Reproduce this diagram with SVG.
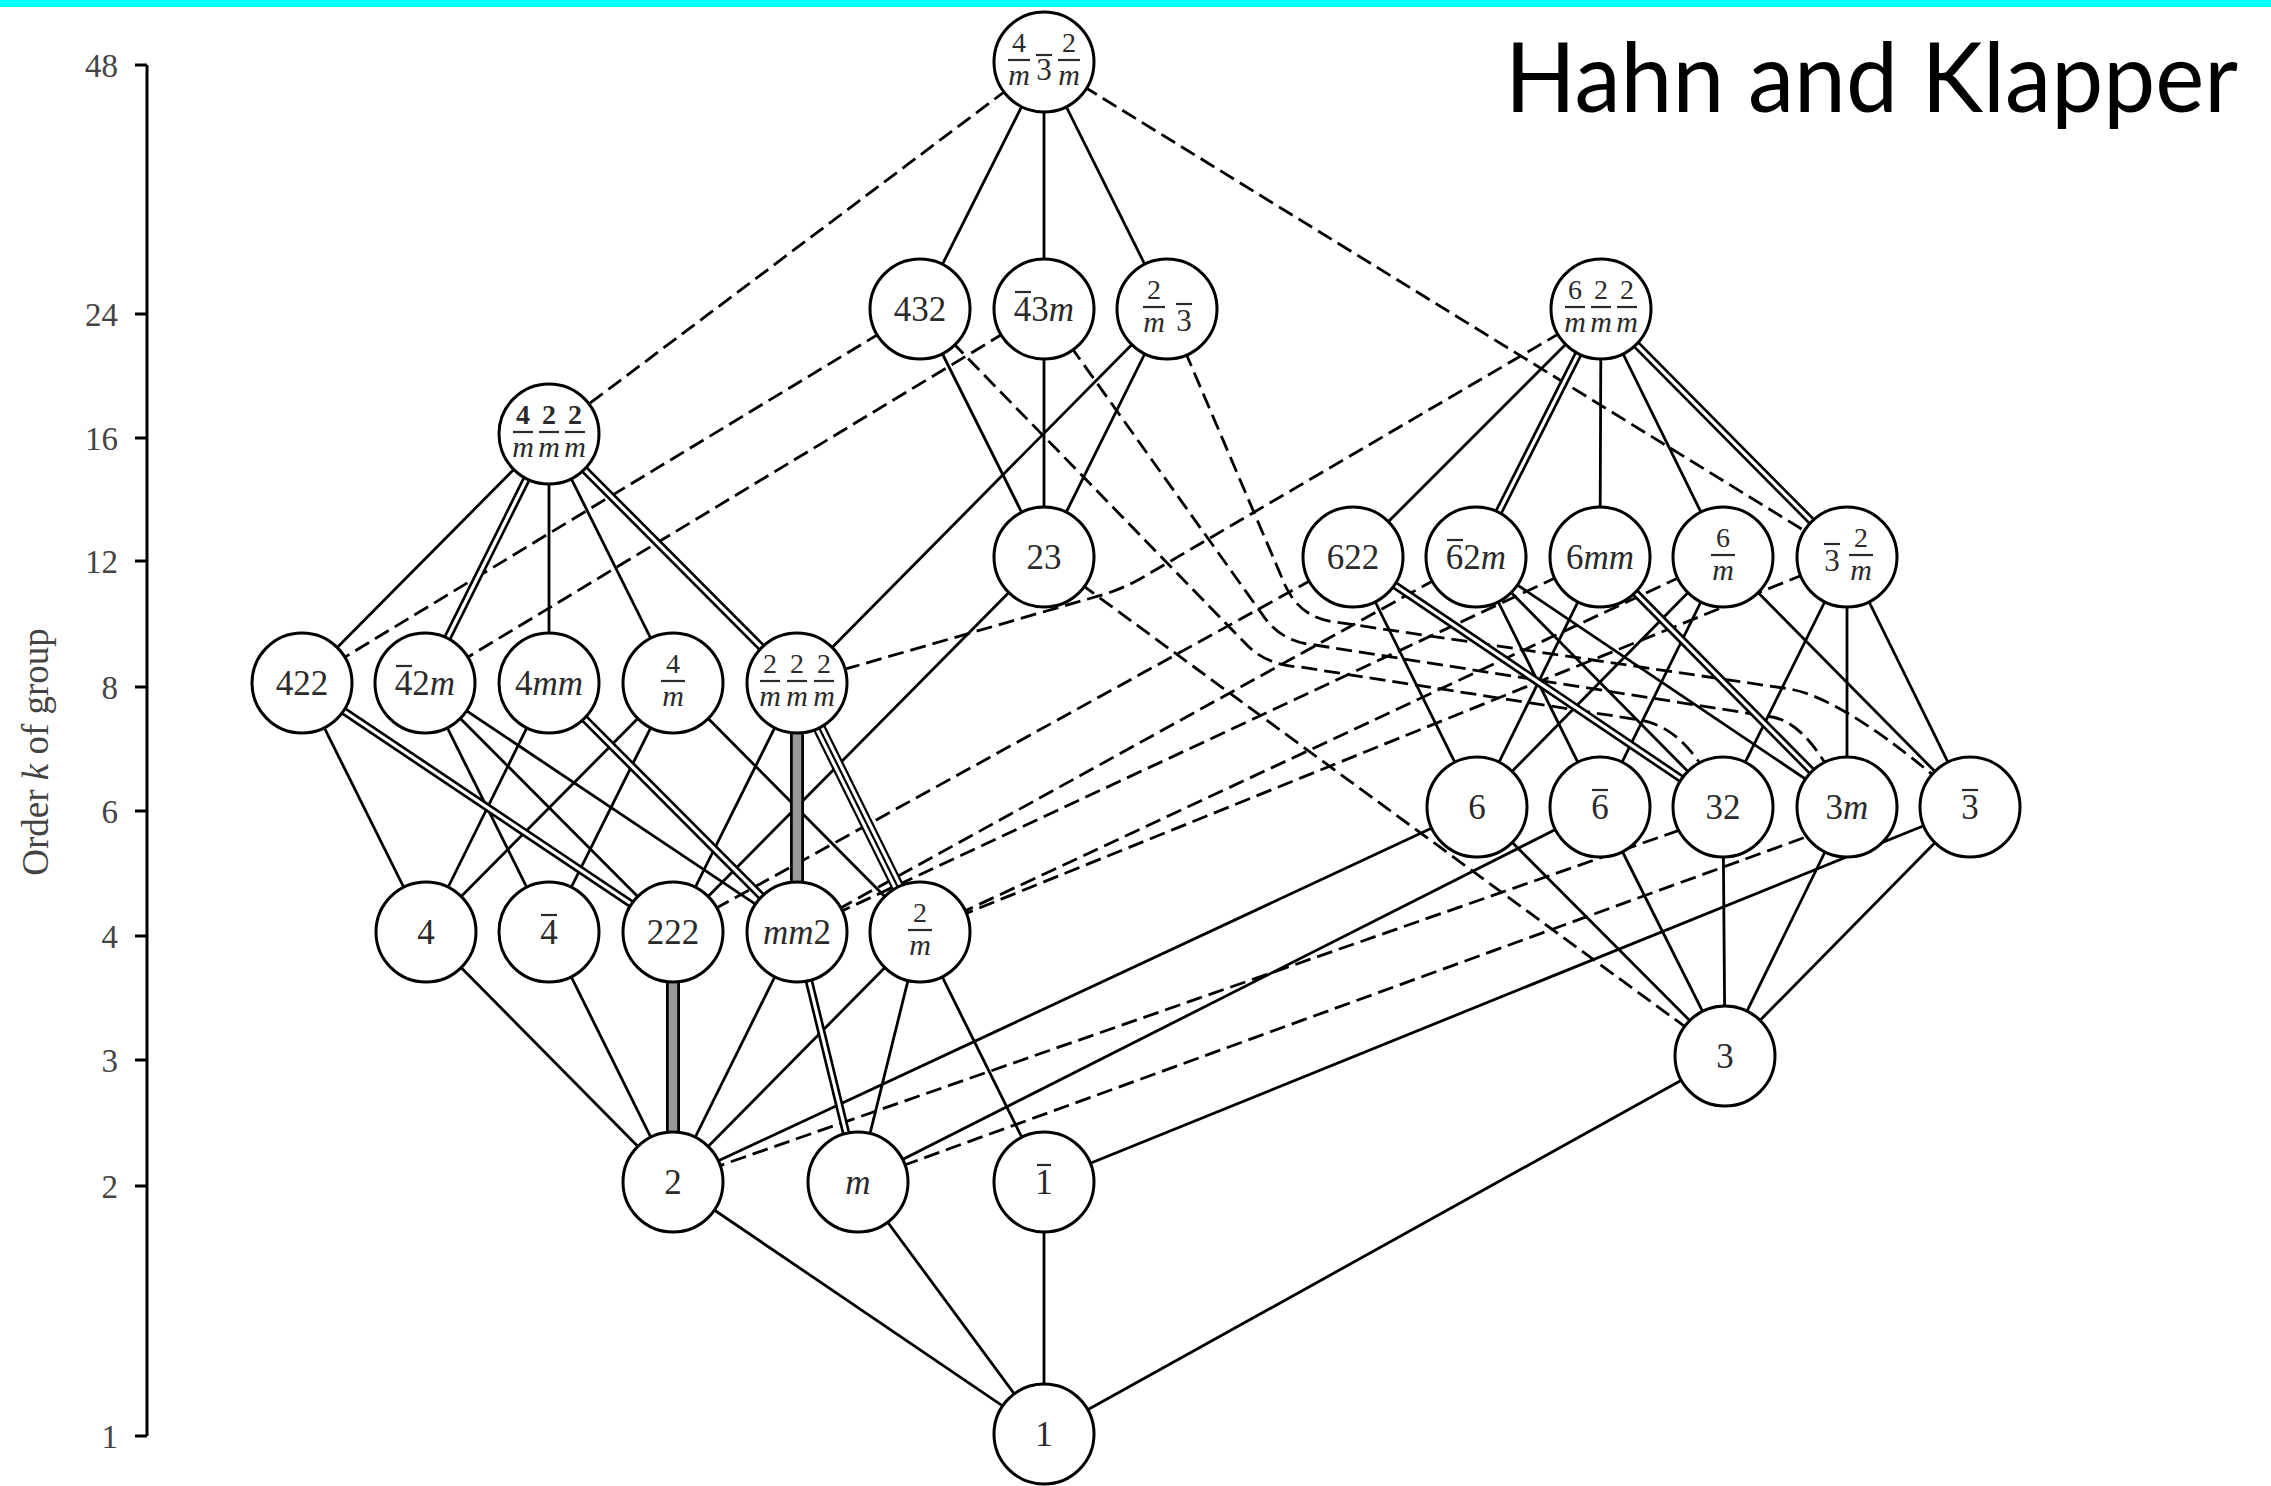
<svg xmlns="http://www.w3.org/2000/svg" width="2271" height="1486" viewBox="0 0 2271 1486">
<style>
.s{stroke:#000;stroke-width:2.8;fill:none}
.ds{stroke:#000;stroke-width:2.8;fill:none;stroke-dasharray:16 7}
.do{stroke:#000;stroke-width:8.5}
.di{stroke:#fff;stroke-width:3.2}
.to{stroke:#000;stroke-width:13}
.ti{stroke:#fff;stroke-width:8.6}
.tc{stroke:#000;stroke-width:2.2}
.go{stroke:#000;stroke-width:14}
.gi{stroke:#999;stroke-width:8.5}
.node circle{fill:#fff;stroke:#000;stroke-width:3}
.t{font-family:"Liberation Serif",serif;font-size:35px;fill:#2a2a2a;text-anchor:middle}
.fr{font-family:"Liberation Serif",serif;font-size:28px;fill:#2a2a2a;text-anchor:middle}
.dm{font-size:30px;font-style:italic}
.b3{font-size:31px}
.i{font-style:italic}
.fb,.ob{stroke:#2a2a2a;stroke-width:2.2}
.ax{stroke:#000;stroke-width:3;fill:none}
.al{font-family:"Liberation Serif",serif;font-size:33px;fill:#444;text-anchor:end}
</style>
<rect x="0" y="0" width="2271" height="7" fill="#00ffff"/>
<text x="1505" y="112" font-family="Lato,'Open Sans',sans-serif" font-size="96" fill="#000" textLength="733" lengthAdjust="spacingAndGlyphs">Hahn and Klapper</text>
<g id="axis">
<path class="ax" d="M147,65V1436M135,65H147M135,314H147M135,438H147M135,561H147M135,687H147M135,811H147M135,936H147M135,1060H147M135,1186H147M135,1436H147"/>
<text class="al" x="118" y="77">48</text>
<text class="al" x="118" y="326">24</text>
<text class="al" x="118" y="450">16</text>
<text class="al" x="118" y="573">12</text>
<text class="al" x="118" y="699">8</text>
<text class="al" x="118" y="823">6</text>
<text class="al" x="118" y="948">4</text>
<text class="al" x="118" y="1072">3</text>
<text class="al" x="118" y="1198">2</text>
<text class="al" x="118" y="1448">1</text>
<text transform="translate(48,752) rotate(-90)" font-family="Liberation Serif,serif" font-size="37" fill="#444" text-anchor="middle">Order <tspan font-style="italic">k</tspan> of group</text>
</g>
<g id="connectors">
<g id="solid">
<line class="s" x1="1044" y1="62" x2="920" y2="309"/>
<line class="s" x1="1044" y1="62" x2="1044" y2="309"/>
<line class="s" x1="1044" y1="62" x2="1167" y2="309"/>
<line class="s" x1="920" y1="309" x2="1044" y2="557"/>
<line class="s" x1="1044" y1="309" x2="1044" y2="557"/>
<line class="s" x1="1167" y1="309" x2="1044" y2="557"/>
<line class="s" x1="1167" y1="309" x2="797" y2="683"/>
<line class="s" x1="1601" y1="309" x2="1353" y2="557"/>
<line class="s" x1="1601" y1="309" x2="1600" y2="557"/>
<line class="s" x1="1601" y1="309" x2="1723" y2="557"/>
<line class="s" x1="549" y1="434" x2="302" y2="683"/>
<line class="s" x1="549" y1="434" x2="549" y2="683"/>
<line class="s" x1="549" y1="434" x2="673" y2="683"/>
<line class="s" x1="1044" y1="557" x2="673" y2="932"/>
<line class="s" x1="1353" y1="557" x2="1477" y2="807"/>
<line class="s" x1="1476" y1="557" x2="1600" y2="807"/>
<line class="s" x1="1476" y1="557" x2="1723" y2="807"/>
<line class="s" x1="1476" y1="557" x2="1847" y2="807"/>
<line class="s" x1="1600" y1="557" x2="1477" y2="807"/>
<line class="s" x1="1723" y1="557" x2="1477" y2="807"/>
<line class="s" x1="1723" y1="557" x2="1600" y2="807"/>
<line class="s" x1="1723" y1="557" x2="1970" y2="807"/>
<line class="s" x1="1847" y1="557" x2="1723" y2="807"/>
<line class="s" x1="1847" y1="557" x2="1847" y2="807"/>
<line class="s" x1="1847" y1="557" x2="1970" y2="807"/>
<line class="s" x1="302" y1="683" x2="426" y2="932"/>
<line class="s" x1="425" y1="683" x2="549" y2="932"/>
<line class="s" x1="425" y1="683" x2="673" y2="932"/>
<line class="s" x1="425" y1="683" x2="797" y2="932"/>
<line class="s" x1="549" y1="683" x2="426" y2="932"/>
<line class="s" x1="673" y1="683" x2="426" y2="932"/>
<line class="s" x1="673" y1="683" x2="549" y2="932"/>
<line class="s" x1="673" y1="683" x2="920" y2="932"/>
<line class="s" x1="797" y1="683" x2="673" y2="932"/>
<line class="s" x1="1477" y1="807" x2="1725" y2="1056"/>
<line class="s" x1="1477" y1="807" x2="673" y2="1182"/>
<line class="s" x1="1600" y1="807" x2="1725" y2="1056"/>
<line class="s" x1="1600" y1="807" x2="858" y2="1182"/>
<line class="s" x1="1723" y1="807" x2="1725" y2="1056"/>
<line class="s" x1="1847" y1="807" x2="1725" y2="1056"/>
<line class="s" x1="1970" y1="807" x2="1725" y2="1056"/>
<line class="s" x1="1970" y1="807" x2="1044" y2="1182"/>
<line class="s" x1="426" y1="932" x2="673" y2="1182"/>
<line class="s" x1="549" y1="932" x2="673" y2="1182"/>
<line class="s" x1="797" y1="932" x2="673" y2="1182"/>
<line class="s" x1="920" y1="932" x2="673" y2="1182"/>
<line class="s" x1="920" y1="932" x2="858" y2="1182"/>
<line class="s" x1="920" y1="932" x2="1044" y2="1182"/>
<line class="s" x1="1725" y1="1056" x2="1044" y2="1434"/>
<line class="s" x1="673" y1="1182" x2="1044" y2="1434"/>
<line class="s" x1="858" y1="1182" x2="1044" y2="1434"/>
<line class="s" x1="1044" y1="1182" x2="1044" y2="1434"/>
</g>
<g id="dashed">
<line class="ds" x1="1044" y1="62" x2="549" y2="434"/>
<line class="ds" x1="1044" y1="62" x2="1847" y2="557"/>
<line class="ds" x1="920" y1="309" x2="302" y2="683"/>
<line class="ds" x1="1044" y1="309" x2="425" y2="683"/>
<line class="ds" x1="1044" y1="557" x2="1725" y2="1056"/>
<line class="ds" x1="1353" y1="557" x2="673" y2="932"/>
<line class="ds" x1="1476" y1="557" x2="797" y2="932"/>
<line class="ds" x1="1600" y1="557" x2="797" y2="932"/>
<line class="ds" x1="1723" y1="557" x2="920" y2="932"/>
<line class="ds" x1="1847" y1="557" x2="920" y2="932"/>
<line class="ds" x1="1723" y1="815" x2="673" y2="1182"/>
<line class="ds" x1="1847" y1="822" x2="858" y2="1182"/>
<path class="ds" d="M1167,309 L1285,585 Q1300,618 1335,622 L1790,689 Q1850,700 1970,807"/>
<path class="ds" d="M1044,309 L1262,614 Q1280,642 1315,645 L1772,717 Q1812,724 1847,807"/>
<path class="ds" d="M920,309 L1245,643 Q1265,665 1300,667 L1640,720 Q1690,728 1723,807"/>
<path class="ds" d="M1601,309 L1140,579 Q1118,591 1095,597 L797,683"/>
</g>
<g id="double">
<line class="do" x1="1601" y1="309" x2="1476" y2="557"/><line class="di" x1="1601" y1="309" x2="1476" y2="557"/>
<line class="do" x1="1601" y1="309" x2="1847" y2="557"/><line class="di" x1="1601" y1="309" x2="1847" y2="557"/>
<line class="do" x1="549" y1="434" x2="425" y2="683"/><line class="di" x1="549" y1="434" x2="425" y2="683"/>
<line class="do" x1="549" y1="434" x2="797" y2="683"/><line class="di" x1="549" y1="434" x2="797" y2="683"/>
<line class="do" x1="1353" y1="557" x2="1723" y2="807"/><line class="di" x1="1353" y1="557" x2="1723" y2="807"/>
<line class="do" x1="1600" y1="557" x2="1847" y2="807"/><line class="di" x1="1600" y1="557" x2="1847" y2="807"/>
<line class="do" x1="302" y1="683" x2="673" y2="932"/><line class="di" x1="302" y1="683" x2="673" y2="932"/>
<line class="do" x1="549" y1="683" x2="797" y2="932"/><line class="di" x1="549" y1="683" x2="797" y2="932"/>
<line class="do" x1="797" y1="932" x2="858" y2="1182"/><line class="di" x1="797" y1="932" x2="858" y2="1182"/>
</g>
<g id="triple">
<line class="to" x1="797" y1="683" x2="920" y2="932"/><line class="ti" x1="797" y1="683" x2="920" y2="932"/><line class="tc" x1="797" y1="683" x2="920" y2="932"/>
<line class="go" x1="797" y1="683" x2="797" y2="932"/><line class="gi" x1="797" y1="683" x2="797" y2="932"/>
<line class="go" x1="673" y1="932" x2="673" y2="1182"/><line class="gi" x1="673" y1="932" x2="673" y2="1182"/>
</g>
</g>
<g id="nodes">
<g id="n-m3m" class="node"><circle cx="1044" cy="62" r="50"/>
<text class="fr"><tspan x="1019" y="52">4</tspan><tspan class="dm" x="1019" y="85">m</tspan><tspan class="b3" x="1044" y="80">3</tspan><tspan x="1069" y="52">2</tspan><tspan class="dm" x="1069" y="85">m</tspan></text>
<line class="fb" x1="1008" y1="60" x2="1030" y2="60"/><line class="ob" x1="1036" y1="55" x2="1052" y2="55"/><line class="fb" x1="1058" y1="60" x2="1080" y2="60"/></g>
<g id="n-432" class="node"><circle cx="920" cy="309" r="50"/><text class="t" x="920" y="321">432</text></g>
<g id="n-43m" class="node"><circle cx="1044" cy="309" r="50"/><text class="t" x="1044" y="321">43<tspan class="i">m</tspan></text><line class="ob" x1="1015" y1="292" x2="1031" y2="292"/></g>
<g id="n-m3" class="node"><circle cx="1167" cy="309" r="50"/>
<text class="fr"><tspan x="1154" y="299">2</tspan><tspan class="dm" x="1154" y="332">m</tspan><tspan class="b3" x="1184" y="331">3</tspan></text>
<line class="fb" x1="1143" y1="307" x2="1165" y2="307"/><line class="ob" x1="1176" y1="304" x2="1192" y2="304"/></g>
<g id="n-6mmm" class="node"><circle cx="1601" cy="309" r="50"/>
<text class="fr"><tspan x="1575" y="299">6</tspan><tspan x="1601" y="299">2</tspan><tspan x="1627" y="299">2</tspan><tspan class="dm" x="1575" y="332">m</tspan><tspan class="dm" x="1601" y="332">m</tspan><tspan class="dm" x="1627" y="332">m</tspan></text>
<line class="fb" x1="1565" y1="307" x2="1585" y2="307"/><line class="fb" x1="1591" y1="307" x2="1611" y2="307"/><line class="fb" x1="1617" y1="307" x2="1637" y2="307"/></g>
<g id="n-4mmm" class="node"><circle cx="549" cy="434" r="50"/>
<text class="fr"><tspan x="523" y="424" font-weight="bold">4</tspan><tspan x="549" y="424" font-weight="bold">2</tspan><tspan x="575" y="424" font-weight="bold">2</tspan><tspan class="dm" x="523" y="457">m</tspan><tspan class="dm" x="549" y="457">m</tspan><tspan class="dm" x="575" y="457">m</tspan></text>
<line class="fb" x1="513" y1="432" x2="533" y2="432"/><line class="fb" x1="539" y1="432" x2="559" y2="432"/><line class="fb" x1="565" y1="432" x2="585" y2="432"/></g>
<g id="n-23" class="node"><circle cx="1044" cy="557" r="50"/><text class="t" x="1044" y="569">23</text></g>
<g id="n-622" class="node"><circle cx="1353" cy="557" r="50"/><text class="t" x="1353" y="569">622</text></g>
<g id="n-62m" class="node"><circle cx="1476" cy="557" r="50"/><text class="t" x="1476" y="569">62<tspan class="i">m</tspan></text><line class="ob" x1="1447" y1="540" x2="1463" y2="540"/></g>
<g id="n-6mm" class="node"><circle cx="1600" cy="557" r="50"/><text class="t" x="1600" y="569">6<tspan class="i">mm</tspan></text></g>
<g id="n-6m" class="node"><circle cx="1723" cy="557" r="50"/>
<text class="fr"><tspan x="1723" y="547">6</tspan><tspan class="dm" x="1723" y="580">m</tspan></text><line class="fb" x1="1711" y1="555" x2="1735" y2="555"/></g>
<g id="n-3m2" class="node"><circle cx="1847" cy="557" r="50"/>
<text class="fr"><tspan class="b3" x="1832" y="571">3</tspan><tspan x="1861" y="547">2</tspan><tspan class="dm" x="1861" y="580">m</tspan></text>
<line class="ob" x1="1824" y1="544" x2="1840" y2="544"/><line class="fb" x1="1849" y1="555" x2="1873" y2="555"/></g>
<g id="n-422" class="node"><circle cx="302" cy="683" r="50"/><text class="t" x="302" y="695">422</text></g>
<g id="n-42m" class="node"><circle cx="425" cy="683" r="50"/><text class="t" x="425" y="695">42<tspan class="i">m</tspan></text><line class="ob" x1="396" y1="666" x2="412" y2="666"/></g>
<g id="n-4mm" class="node"><circle cx="549" cy="683" r="50"/><text class="t" x="549" y="695">4<tspan class="i">mm</tspan></text></g>
<g id="n-4m" class="node"><circle cx="673" cy="683" r="50"/>
<text class="fr"><tspan x="673" y="673">4</tspan><tspan class="dm" x="673" y="706">m</tspan></text><line class="fb" x1="661" y1="681" x2="685" y2="681"/></g>
<g id="n-mmm" class="node"><circle cx="797" cy="683" r="50"/>
<text class="fr"><tspan x="770" y="673">2</tspan><tspan x="797" y="673">2</tspan><tspan x="824" y="673">2</tspan><tspan class="dm" x="770" y="706">m</tspan><tspan class="dm" x="797" y="706">m</tspan><tspan class="dm" x="824" y="706">m</tspan></text>
<line class="fb" x1="760" y1="681" x2="780" y2="681"/><line class="fb" x1="787" y1="681" x2="807" y2="681"/><line class="fb" x1="814" y1="681" x2="834" y2="681"/></g>
<g id="n-6" class="node"><circle cx="1477" cy="807" r="50"/><text class="t" x="1477" y="819">6</text></g>
<g id="n-6b" class="node"><circle cx="1600" cy="807" r="50"/><text class="t" x="1600" y="819">6</text><line class="ob" x1="1592" y1="790" x2="1608" y2="790"/></g>
<g id="n-32" class="node"><circle cx="1723" cy="807" r="50"/><text class="t" x="1723" y="819">32</text></g>
<g id="n-3m" class="node"><circle cx="1847" cy="807" r="50"/><text class="t" x="1847" y="819">3<tspan class="i">m</tspan></text></g>
<g id="n-3b" class="node"><circle cx="1970" cy="807" r="50"/><text class="t" x="1970" y="819">3</text><line class="ob" x1="1962" y1="790" x2="1978" y2="790"/></g>
<g id="n-4" class="node"><circle cx="426" cy="932" r="50"/><text class="t" x="426" y="944">4</text></g>
<g id="n-4b" class="node"><circle cx="549" cy="932" r="50"/><text class="t" x="549" y="944">4</text><line class="ob" x1="541" y1="915" x2="557" y2="915"/></g>
<g id="n-222" class="node"><circle cx="673" cy="932" r="50"/><text class="t" x="673" y="944">222</text></g>
<g id="n-mm2" class="node"><circle cx="797" cy="932" r="50"/><text class="t" x="797" y="944"><tspan class="i">mm</tspan>2</text></g>
<g id="n-2m" class="node"><circle cx="920" cy="932" r="50"/>
<text class="fr"><tspan x="920" y="922">2</tspan><tspan class="dm" x="920" y="955">m</tspan></text><line class="fb" x1="908" y1="930" x2="932" y2="930"/></g>
<g id="n-3" class="node"><circle cx="1725" cy="1056" r="50"/><text class="t" x="1725" y="1068">3</text></g>
<g id="n-2" class="node"><circle cx="673" cy="1182" r="50"/><text class="t" x="673" y="1194">2</text></g>
<g id="n-m" class="node"><circle cx="858" cy="1182" r="50"/><text class="t i" x="858" y="1194">m</text></g>
<g id="n-1b" class="node"><circle cx="1044" cy="1182" r="50"/><text class="t" x="1044" y="1194">1</text><line class="ob" x1="1037" y1="1165" x2="1051" y2="1165"/></g>
<g id="n-1" class="node"><circle cx="1044" cy="1434" r="50"/><text class="t" x="1044" y="1446">1</text></g>
</g>
</svg>
